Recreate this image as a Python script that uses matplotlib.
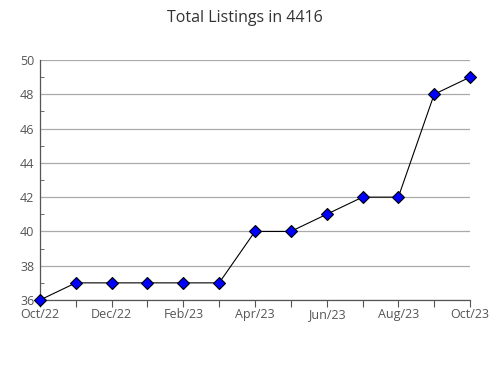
import matplotlib
matplotlib.use("Agg")
import matplotlib.pyplot as plt
from matplotlib.ticker import MultipleLocator

plt.rcParams['font.family'] = ['Open Sans', 'DejaVu Sans']

months = ['Oct/22', 'Nov/22', 'Dec/22', 'Jan/23', 'Feb/23', 'Mar/23', 'Apr/23',
          'May/23', 'Jun/23', 'Jul/23', 'Aug/23', 'Sep/23', 'Oct/23']
listings = [36, 37, 37, 37, 37, 37, 40, 40, 41, 42, 42, 48, 49]

fig = plt.figure(figsize=(4.9, 3.8), dpi=100)
ax = fig.add_axes([0.0816, 0.2105, 0.8776, 0.6316])

x = list(range(len(months)))
ax.plot(x, listings, color='black', lw=0.8, marker='D', markersize=6.5,
        markerfacecolor='#0000ff', markeredgecolor='black', markeredgewidth=0.8,
        clip_on=False, zorder=3)

ax.set_xlim(0, len(months) - 1)
ax.set_ylim(36, 50)
ax.set_xticks(x)
ax.set_xticklabels([m if i % 2 == 0 else '' for i, m in enumerate(months)])
ax.yaxis.set_major_locator(MultipleLocator(2))
ax.yaxis.set_minor_locator(MultipleLocator(1))
ax.grid(axis='y', color='#aaaaaa', lw=0.9)
ax.set_axisbelow(True)

for s in ['top', 'right']:
    ax.spines[s].set_visible(False)
for s in ['left', 'bottom']:
    ax.spines[s].set_color('#555555')
    ax.spines[s].set_linewidth(0.9)

ax.tick_params(axis='x', direction='out', length=5, color='#555555',
               labelsize=9, labelcolor='#555555', pad=1)
ax.tick_params(axis='y', which='major', length=0, labelsize=9,
               labelcolor='#555555', pad=4)
ax.tick_params(axis='y', which='minor', direction='in', length=3, color='#555555')

fig.suptitle('Total Listings in 4416', y=0.975, fontsize=11.5, color='#333333')

fig.savefig('out.png', dpi=100)
